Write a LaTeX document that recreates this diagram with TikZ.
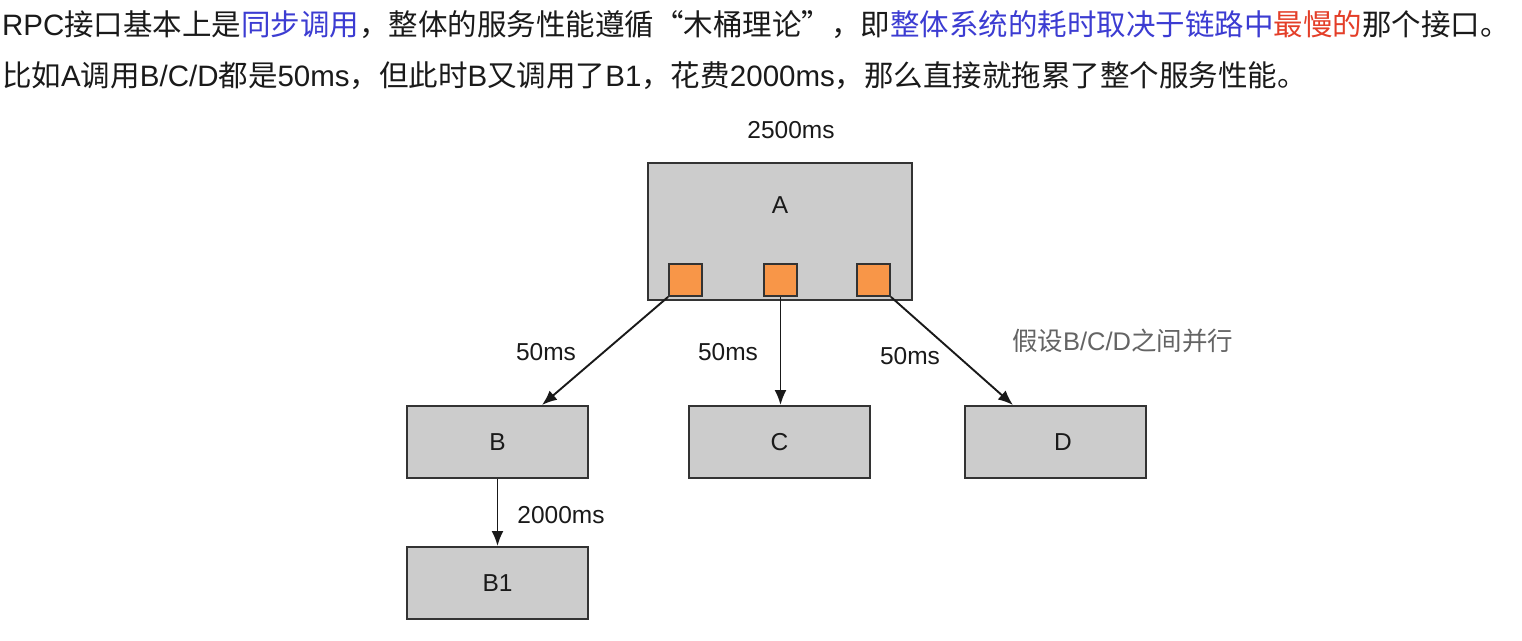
\documentclass[tikz,border=0pt]{standalone}
\usepackage{fontspec}
\setmainfont{Liberation Sans}
\newfontfamily\cjk{Noto Sans CJK SC}
\newfontfamily\lat{Liberation Sans}
\usetikzlibrary{arrows.meta,calc}
\definecolor{boxfill}{RGB}{204,204,204}
\definecolor{boxline}{RGB}{51,51,51}
\definecolor{portfill}{RGB}{248,150,72}
\definecolor{txt}{RGB}{26,26,26}
\definecolor{hlblue}{RGB}{60,60,210}
\definecolor{hlred}{RGB}{228,62,40}
\definecolor{note}{RGB}{100,100,100}
\begin{document}
\begin{tikzpicture}[x=1pt,y=-1pt,
  line/.style={anchor=base west,inner sep=0pt,text=txt,font=\cjk\fontsize{29.5}{34}\selectfont},
  box/.style={draw=boxline,line width=2pt,fill=boxfill,inner sep=0pt,minimum width=181pt,minimum height=72pt,text=txt,font=\lat\fontsize{24.5}{28}\selectfont},
  port/.style={draw=boxline,line width=1.8pt,fill=portfill,inner sep=0pt,minimum width=33pt,minimum height=32pt},
  lbl/.style={inner sep=0pt,text=txt,font=\lat\fontsize{24.5}{28}\selectfont},
  arr/.style={draw=black!90,line width=1.9pt,-{Latex[length=15pt,width=12pt]}}]
\useasboundingbox[fill=white] (0,0) rectangle (1522,640);
% text lines
\node[line] (t1) at (2,35) {{\lat RPC}接口基本上是\textcolor{hlblue}{同步调用}，整体的服务性能遵循“木桶理论”，即\textcolor{hlblue}{整体系统的耗时取决于链路中}\textcolor{hlred}{最慢的}那个接口。};
\node[line] (t2) at (2,86) {比如{\lat A}调用{\lat B/C/D}都是{\lat 50ms}，但此时{\lat B}又调用了{\lat B1}，花费{\lat 2000ms}，那么直接就拖累了整个服务性能。};
% boxes
\node[box,minimum width=264pt,minimum height=137pt] (A) at (780,231.5) {};
\node[lbl] (Alab) at (780,205) {A};
\node[lbl] (Atime) at (791,130) {2500ms};
\node[port] (sqL) at (685.5,280) {};
\node[port] (sqM) at (780.5,280) {};
\node[port] (sqR) at (873.5,280) {};
\node[box] (B) at (497.5,442) {B};
\node[box] (C) at (779.5,442) {C};
\node[box] (D) at (1055,442) {\hspace{16pt}D};
\node[box] (B1) at (497.5,583) {B1};
% arrows
\draw[arr] (sqL.south west) -- ($(B.north)+(44.5,0)$);
\draw[arr] (sqM.south) -- (sqM.south |- C.north);
\draw[arr] (sqR.south east) -- ($(D.north)+(-42,0)$);
\draw[arr] (B.south) -- (B1.north);
% labels
\node[lbl] (lB) at (546,352) {50ms};
\node[lbl] (lC) at (728,352) {50ms};
\node[lbl] (lD) at (910,356) {50ms};
\node[lbl] (lB1) at (561,515) {2000ms};
\node[lbl,text=note,font=\lat\fontsize{25.5}{30}\selectfont] (par) at (1122.5,341) {{\cjk 假设}B/C/D{\cjk 之间并行}};
\end{tikzpicture}
\end{document}
